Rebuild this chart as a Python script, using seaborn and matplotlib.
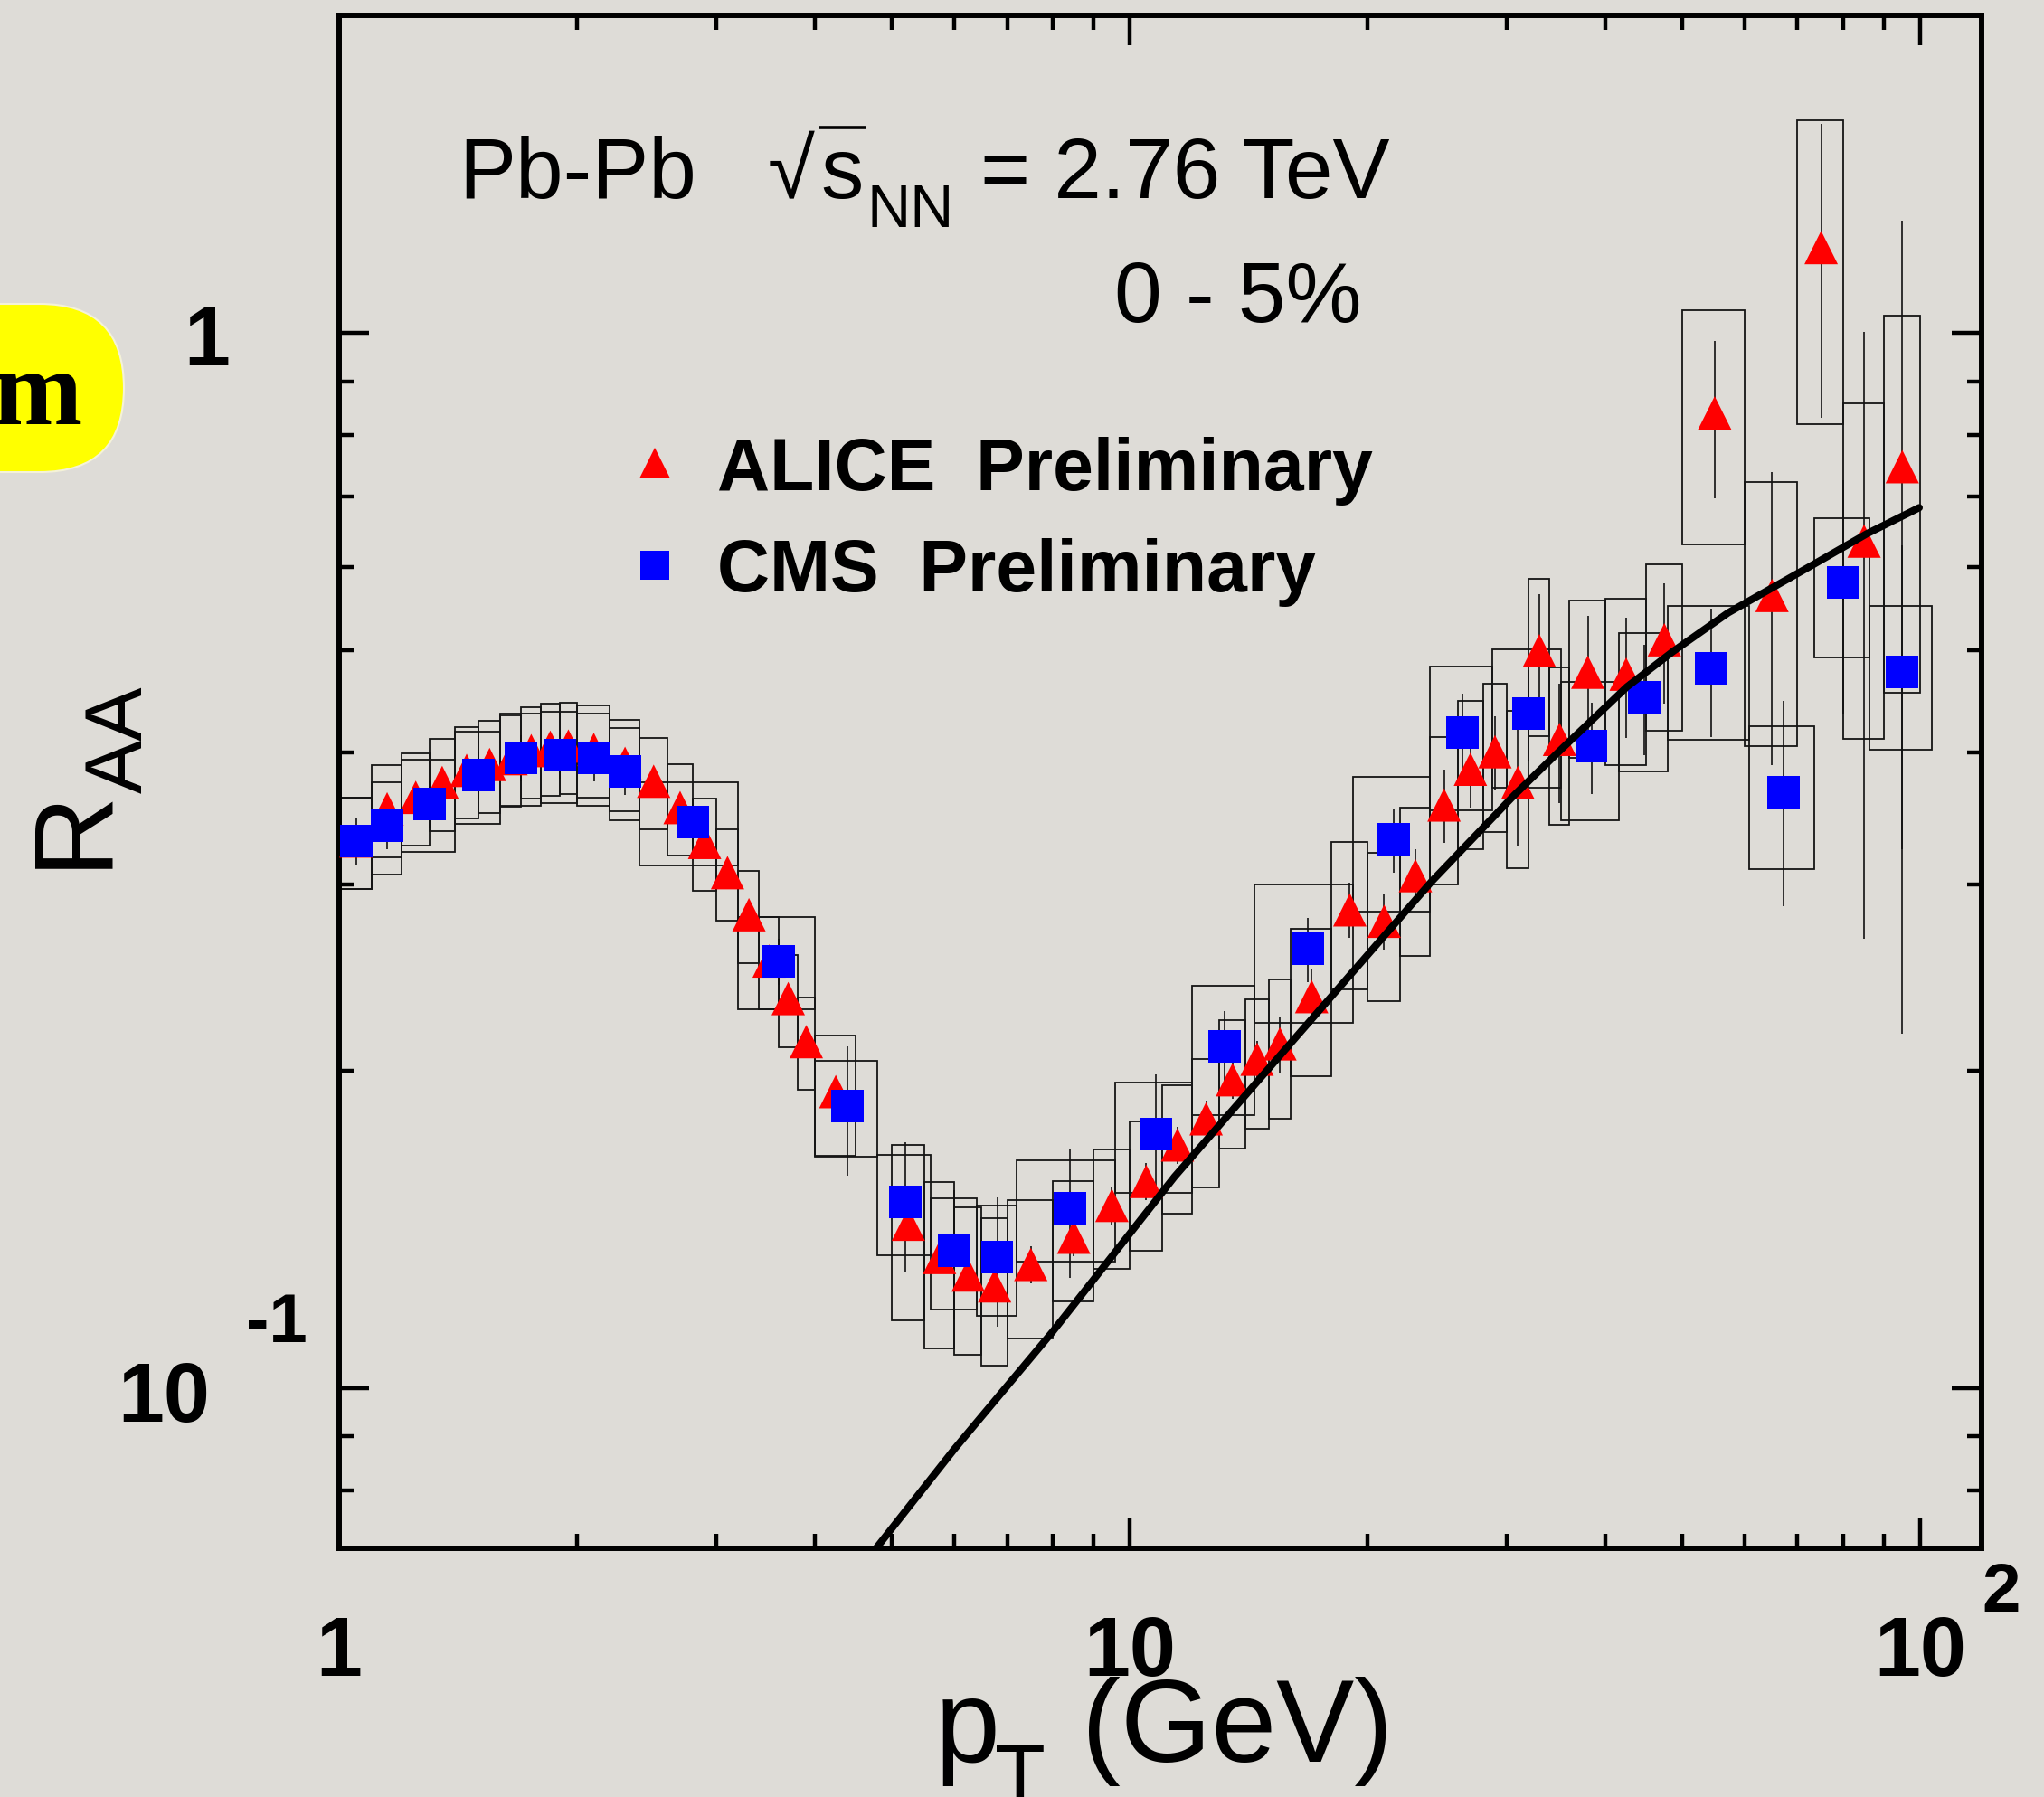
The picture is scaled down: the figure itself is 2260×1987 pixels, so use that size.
import numpy as np
import matplotlib
matplotlib.use("Agg")
import matplotlib.pyplot as plt
import seaborn as sns
from matplotlib.patches import FancyBboxPatch
from matplotlib.ticker import LogLocator, NullFormatter, FixedLocator
from matplotlib.transforms import offset_copy

# ---------------- data ----------------
# ALICE preliminary, Pb-Pb 0-5 %: bin edges (GeV), R_AA, relative sys / stat
alice_lo = [1.0, 1.1, 1.2, 1.3, 1.4, 1.5, 1.6, 1.7, 1.8, 1.9,
            2.0, 2.2, 2.4, 2.6, 2.8, 3.0, 3.2, 3.4, 3.6, 3.8,
            4.0, 5.0, 5.5, 6.0, 6.5, 7, 8, 9, 10, 11, 12, 13, 14, 15,
            16, 18, 20, 22, 24, 26, 28, 30, 32, 34, 36,
            40, 45, 50, 60, 70, 80, 90]
alice_hi = [1.1, 1.2, 1.3, 1.4, 1.5, 1.6, 1.7, 1.8, 1.9, 2.0,
            2.2, 2.4, 2.6, 2.8, 3.0, 3.2, 3.4, 3.6, 3.8, 4.0,
            4.5, 5.5, 6.0, 6.5, 7.0, 8, 9, 10, 11, 12, 13, 14, 15, 16,
            18, 20, 22, 24, 26, 28, 30, 32, 34, 36, 40,
            45, 50, 60, 70, 80, 90, 100]
alice_raa = [0.330, 0.354, 0.363, 0.375, 0.385, 0.390, 0.395, 0.402, 0.405, 0.406,
             0.403, 0.391, 0.376, 0.355, 0.329, 0.308, 0.281, 0.254, 0.234, 0.213,
             0.191, 0.143, 0.133, 0.128, 0.125, 0.131, 0.139, 0.149, 0.157, 0.170,
             0.180, 0.196, 0.205, 0.212,
             0.235, 0.284, 0.277, 0.306, 0.357, 0.386, 0.401, 0.375, 0.500, 0.412, 0.477,
             0.475, 0.512, 0.840, 0.564, 1.205, 0.635, 0.747]
alice_sys = ([0.10] * 20 + [0.13, 0.19, 0.18, 0.16, 0.16]
             + [0.15, 0.13, 0.13, 0.14, 0.14, 0.14, 0.14, 0.14, 0.15]
             + [0.16] * 7 + [0.17] * 4
             + [0.18, 0.18, 0.25, 0.28, 0.32, 0.35, 0.39])
alice_stat = ([0.015] * 20 + [0.03] * 5 + [0.04] * 8 + [0.06] * 5 + [0.08] * 3
              + [0.13] * 6 + [0.17, 0.31, 0.31, 0.58, 0.71])

# CMS preliminary
cms_lo = [1.0, 1.1, 1.2, 1.4, 1.6, 1.8, 2.0, 2.2, 2.4, 3.2, 4.0, 4.8, 5.6, 6.4,
          7.2, 9.6, 12.0, 14.4, 19.2, 24.0, 28.8, 35.2, 41.6, 48.0, 60.8, 73.6, 86.4]
cms_hi = [1.1, 1.2, 1.4, 1.6, 1.8, 2.0, 2.2, 2.4, 3.2, 4.0, 4.8, 5.6, 6.4, 7.2,
          9.6, 12.0, 14.4, 19.2, 24.0, 28.8, 35.2, 41.6, 48.0, 60.8, 73.6, 86.4, 103.6]
cms_raa = [0.330, 0.341, 0.358, 0.381, 0.396, 0.398, 0.396, 0.384, 0.344, 0.254,
           0.185, 0.150, 0.135, 0.133, 0.148, 0.174, 0.211, 0.261, 0.331, 0.418,
           0.436, 0.406, 0.452, 0.481, 0.367, 0.580, 0.477]
cms_sys = ([0.10] * 8 + [0.09, 0.10, 0.105, 0.11, 0.12, 0.12, 0.11, 0.12, 0.14,
                         0.15, 0.146, 0.155, 0.15, 0.15, 0.15, 0.145, 0.155, 0.15, 0.155])
cms_stat = ([0.05] * 10 + [0.14] * 6
            + [0.08, 0.07, 0.07, 0.09, 0.10, 0.10, 0.12, 0.14, 0.22, 0.25, 0.32])

# model curve
curve_pt = [4.78, 6.0, 8.0, 11.4, 16.1, 20.7, 24.1, 30.7, 35.4, 42.6, 48.7, 57.2, 73.5, 85.6, 99.8]
curve_raa = [0.0705, 0.0875, 0.1132, 0.1586, 0.2135, 0.2650, 0.3020, 0.3650, 0.4050,
             0.4620, 0.4990, 0.5430, 0.6040, 0.6450, 0.6830]

x_ticks = [1, 10, 100]
y_ticks = [0.1, 1]

# ---------------- style ----------------
sns.set_theme(style="ticks")
plt.rcParams["font.family"] = ["Liberation Sans", "DejaVu Sans"]
plt.rcParams["text.color"] = "black"
plt.rcParams["axes.labelcolor"] = "black"

BG = "#dedcd7"
W, H = 2260, 1987
fig = plt.figure(figsize=(W / 100, H / 100), dpi=100)
fig.patch.set_facecolor(BG)

# pixel-space overlay for free text
bg = fig.add_axes([0, 0, 1, 1], zorder=0)
bg.set_xlim(0, W)
bg.set_ylim(H, 0)
bg.axis("off")
bg.patch.set_alpha(0)

ax = fig.add_axes([375 / W, 1 - 1712 / H, 1816 / W, 1695 / H], zorder=1)
ax.set_facecolor("none")
ax.set_xscale("log")
ax.set_yscale("log")


def centers(lo, hi):
    return (np.asarray(lo) + np.asarray(hi)) / 2.0


def sys_boxes(lo, hi, val, frac):
    lo, hi, val, frac = map(np.asarray, (lo, hi, val, frac))
    ax.bar(lo, 2 * val * frac, width=hi - lo, bottom=val * (1 - frac), align="edge",
           fill=False, edgecolor="#151515", linewidth=1.3, zorder=2)


def stat_bars(x, val, frac):
    val, frac = np.asarray(val), np.asarray(frac)
    ax.vlines(x, val * (1 - frac), val * (1 + frac), colors="#111111", linewidth=1.2, zorder=2)


ax_x = centers(alice_lo, alice_hi)
cm_x = centers(cms_lo, cms_hi)

sys_boxes(alice_lo, alice_hi, alice_raa, alice_sys)
sys_boxes(cms_lo, cms_hi, cms_raa, cms_sys)
stat_bars(ax_x, alice_raa, alice_stat)
stat_bars(cm_x, cms_raa, cms_stat)

sns.scatterplot(x=ax_x, y=alice_raa, marker="^", s=26.6 ** 2, color="#ff0000",
                linewidth=0, edgecolor="none", ax=ax, zorder=3)
sns.scatterplot(x=cm_x, y=cms_raa, marker="s", s=25.9 ** 2, color="#0000ff",
                linewidth=0, edgecolor="none", ax=ax, zorder=4)
sns.lineplot(x=curve_pt, y=curve_raa, color="black", linewidth=5.8, sort=False,
             estimator=None, ax=ax, zorder=5)

ax.set_xlim(1, 119.7)
ax.set_ylim(0.0705, 2.0)
ax.set_xlabel("")
ax.set_ylabel("")

ax.xaxis.set_major_locator(FixedLocator(x_ticks))
ax.yaxis.set_major_locator(FixedLocator(y_ticks))
ax.xaxis.set_minor_locator(LogLocator(base=10, subs=np.arange(2, 10), numticks=20))
ax.yaxis.set_minor_locator(LogLocator(base=10, subs=np.arange(2, 10), numticks=20))
for a in (ax.xaxis, ax.yaxis):
    a.set_major_formatter(NullFormatter())
    a.set_minor_formatter(NullFormatter())
ax.tick_params(which="both", direction="in", top=True, right=True, color="black",
               labelbottom=False, labelleft=False)
ax.tick_params(which="major", length=23.7, width=3.2)
ax.tick_params(which="minor", length=11.5, width=3.2)
for s in ax.spines.values():
    s.set_linewidth(4.3)
    s.set_color("black")
ax.grid(False)

# tick labels, ROOT style
lab = dict(fontsize=66, fontweight="bold", color="black")
sup = dict(fontsize=55, fontweight="bold", color="black")
xt = ax.get_xaxis_transform()
yt = ax.get_yaxis_transform()
ax.text(1, -0.0832, "1", transform=xt, ha="center", va="baseline", **lab)
ax.text(10, -0.0832, "10", transform=xt, ha="center", va="baseline", **lab)
ax.text(100, -0.0832, "10", transform=xt, ha="center", va="baseline", **lab)
ax.text(100, -0.0413, "2", transform=offset_copy(xt, fig=fig, x=69, y=0, units="dots"),
        ha="left", va="baseline", **sup)
ax.text(-0.0666, 1, "1", transform=offset_copy(yt, fig=fig, x=0, y=-36, units="dots"),
        ha="right", va="baseline", **lab)
ax.text(-0.0787, 0.1, "10", transform=offset_copy(yt, fig=fig, x=0, y=-37, units="dots"),
        ha="right", va="baseline", **lab)
ax.text(-0.0567, 0.1, "-1", transform=offset_copy(yt, fig=fig, x=0, y=51, units="dots"),
        ha="left", va="baseline", **sup)

# axis titles (ROOT-like subscripts, set by hand)
bg.text(1034, 1948, "p", fontsize=93, ha="left", va="baseline", color="black")
bg.text(1100, 1994, "T", fontsize=66, ha="left", va="baseline", color="black")
bg.text(1196, 1948, "(GeV)", fontsize=93, ha="left", va="baseline", color="black")
bg.text(115, 960, "R", fontsize=90, rotation=90, rotation_mode="anchor",
        ha="left", va="baseline", color="black")
bg.text(157, 877, "AA", fontsize=64, rotation=90, rotation_mode="anchor",
        ha="left", va="baseline", color="black")

# annotations
bg.text(507, 219, "Pb-Pb", fontsize=68, ha="left", va="baseline")
bg.text(849, 219, "\u221a", fontsize=68, ha="left", va="baseline")
bg.text(907, 219, "s", fontsize=68, ha="left", va="baseline")
bg.plot([905, 958], [141, 141], color="black", linewidth=2.6, solid_capstyle="butt")
bg.text(958, 251, "NN", fontsize=48, ha="left", va="baseline")
bg.text(1084, 219, "= 2.76 TeV", fontsize=68, ha="left", va="baseline")
bg.text(1232, 356, "0 - 5%", fontsize=68, ha="left", va="baseline")

# legend
bg.plot([723.5], [512], marker="^", ms=23.8, color="#ff0000", mew=0, ls="none")
bg.plot([723.5], [625], marker="s", ms=23.5, color="#0000ff", mew=0, ls="none")
bg.text(793, 542, "ALICE  Preliminary", fontsize=58, fontweight="bold", ha="left", va="baseline")
bg.text(793, 654, "CMS  Preliminary", fontsize=58, fontweight="bold", ha="left", va="baseline")

# slide tag at the left edge
bg.add_patch(FancyBboxPatch((-300, 336), 437, 186, boxstyle="round,pad=0,rounding_size=93",
                            facecolor="#ffff00", edgecolor="#f4f2d8", linewidth=1.5, zorder=1))
bg.text(91, 469, "m", fontsize=85, fontweight="bold", family="Liberation Serif",
        ha="right", va="baseline", zorder=2, color="black")

fig.savefig("out.png", dpi=100, facecolor=BG)
